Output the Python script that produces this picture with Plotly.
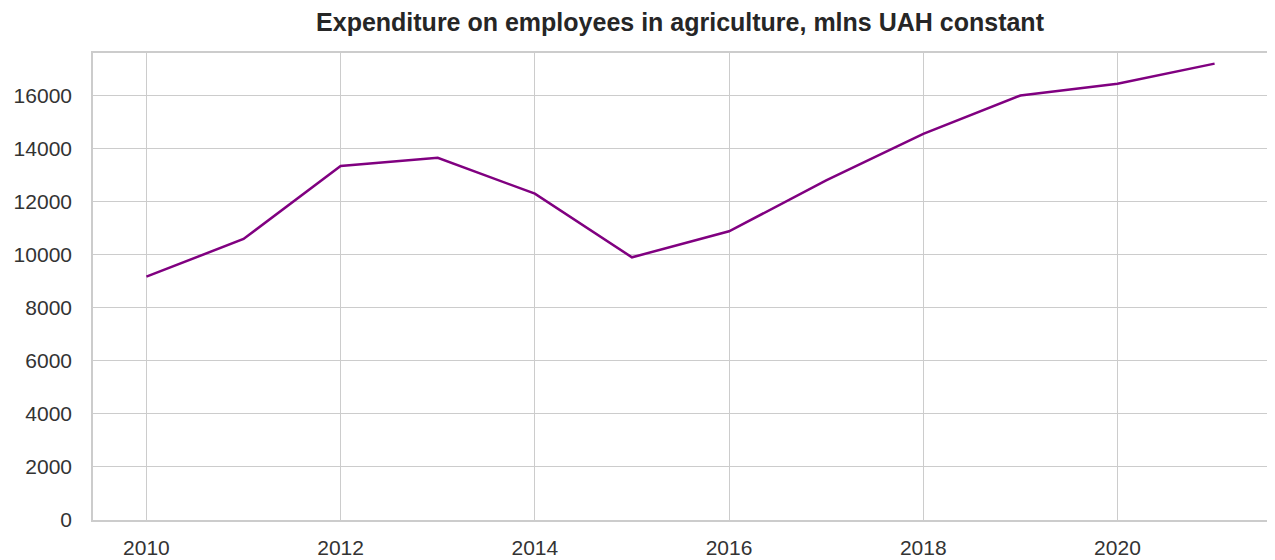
import plotly.graph_objects as go

years = [2010, 2011, 2012, 2013, 2014, 2015, 2016, 2017, 2018, 2019, 2020, 2021]
expenditure = [9175, 10590, 13340, 13650, 12300, 9900, 10880, 12800, 14550, 16000, 16440, 17200]
title_text = "Expenditure on employees in agriculture, mlns UAH constant"
y_ticks = [0, 2000, 4000, 6000, 8000, 10000, 12000, 14000, 16000]
x_ticks = [2010, 2012, 2014, 2016, 2018, 2020]

fig = go.Figure()
fig.add_trace(go.Scatter(x=years, y=expenditure, mode="lines",
                         line=dict(color="#800080", width=2.5)))

span = max(expenditure) - min(expenditure)
fig.update_layout(
    width=1267, height=552,
    margin=dict(l=85, r=7, t=45, b=40, autoexpand=False),
    paper_bgcolor="white", plot_bgcolor="white",
    showlegend=False,
    font=dict(family="Liberation Sans, Arial, sans-serif", size=21, color="#333333"),
    title=dict(text="<b>" + title_text + "</b>", x=0.5304, xanchor="center",
               xref="container", yref="container",
               y=0.975, yanchor="middle",
               font=dict(size=25, color="#262626")),
)
fig.update_xaxes(range=[2009.45, 2021.55], tickvals=x_ticks, tickformat="d",
                 showgrid=True, gridcolor="#cccccc", gridwidth=1.4,
                 showline=True, linecolor="#cccccc", linewidth=1.6, mirror=True,
                 zeroline=False, ticks="", ticklabelstandoff=8, automargin=False)
fig.update_yaxes(range=[0, max(expenditure) + 0.05 * span], tickvals=y_ticks, tickformat="d",
                 showgrid=True, gridcolor="#cccccc", gridwidth=1.4,
                 showline=True, linecolor="#cccccc", linewidth=1.6, mirror=True,
                 zeroline=False, ticks="", ticklabelstandoff=15, automargin=False)

fig.write_html("out.html")
